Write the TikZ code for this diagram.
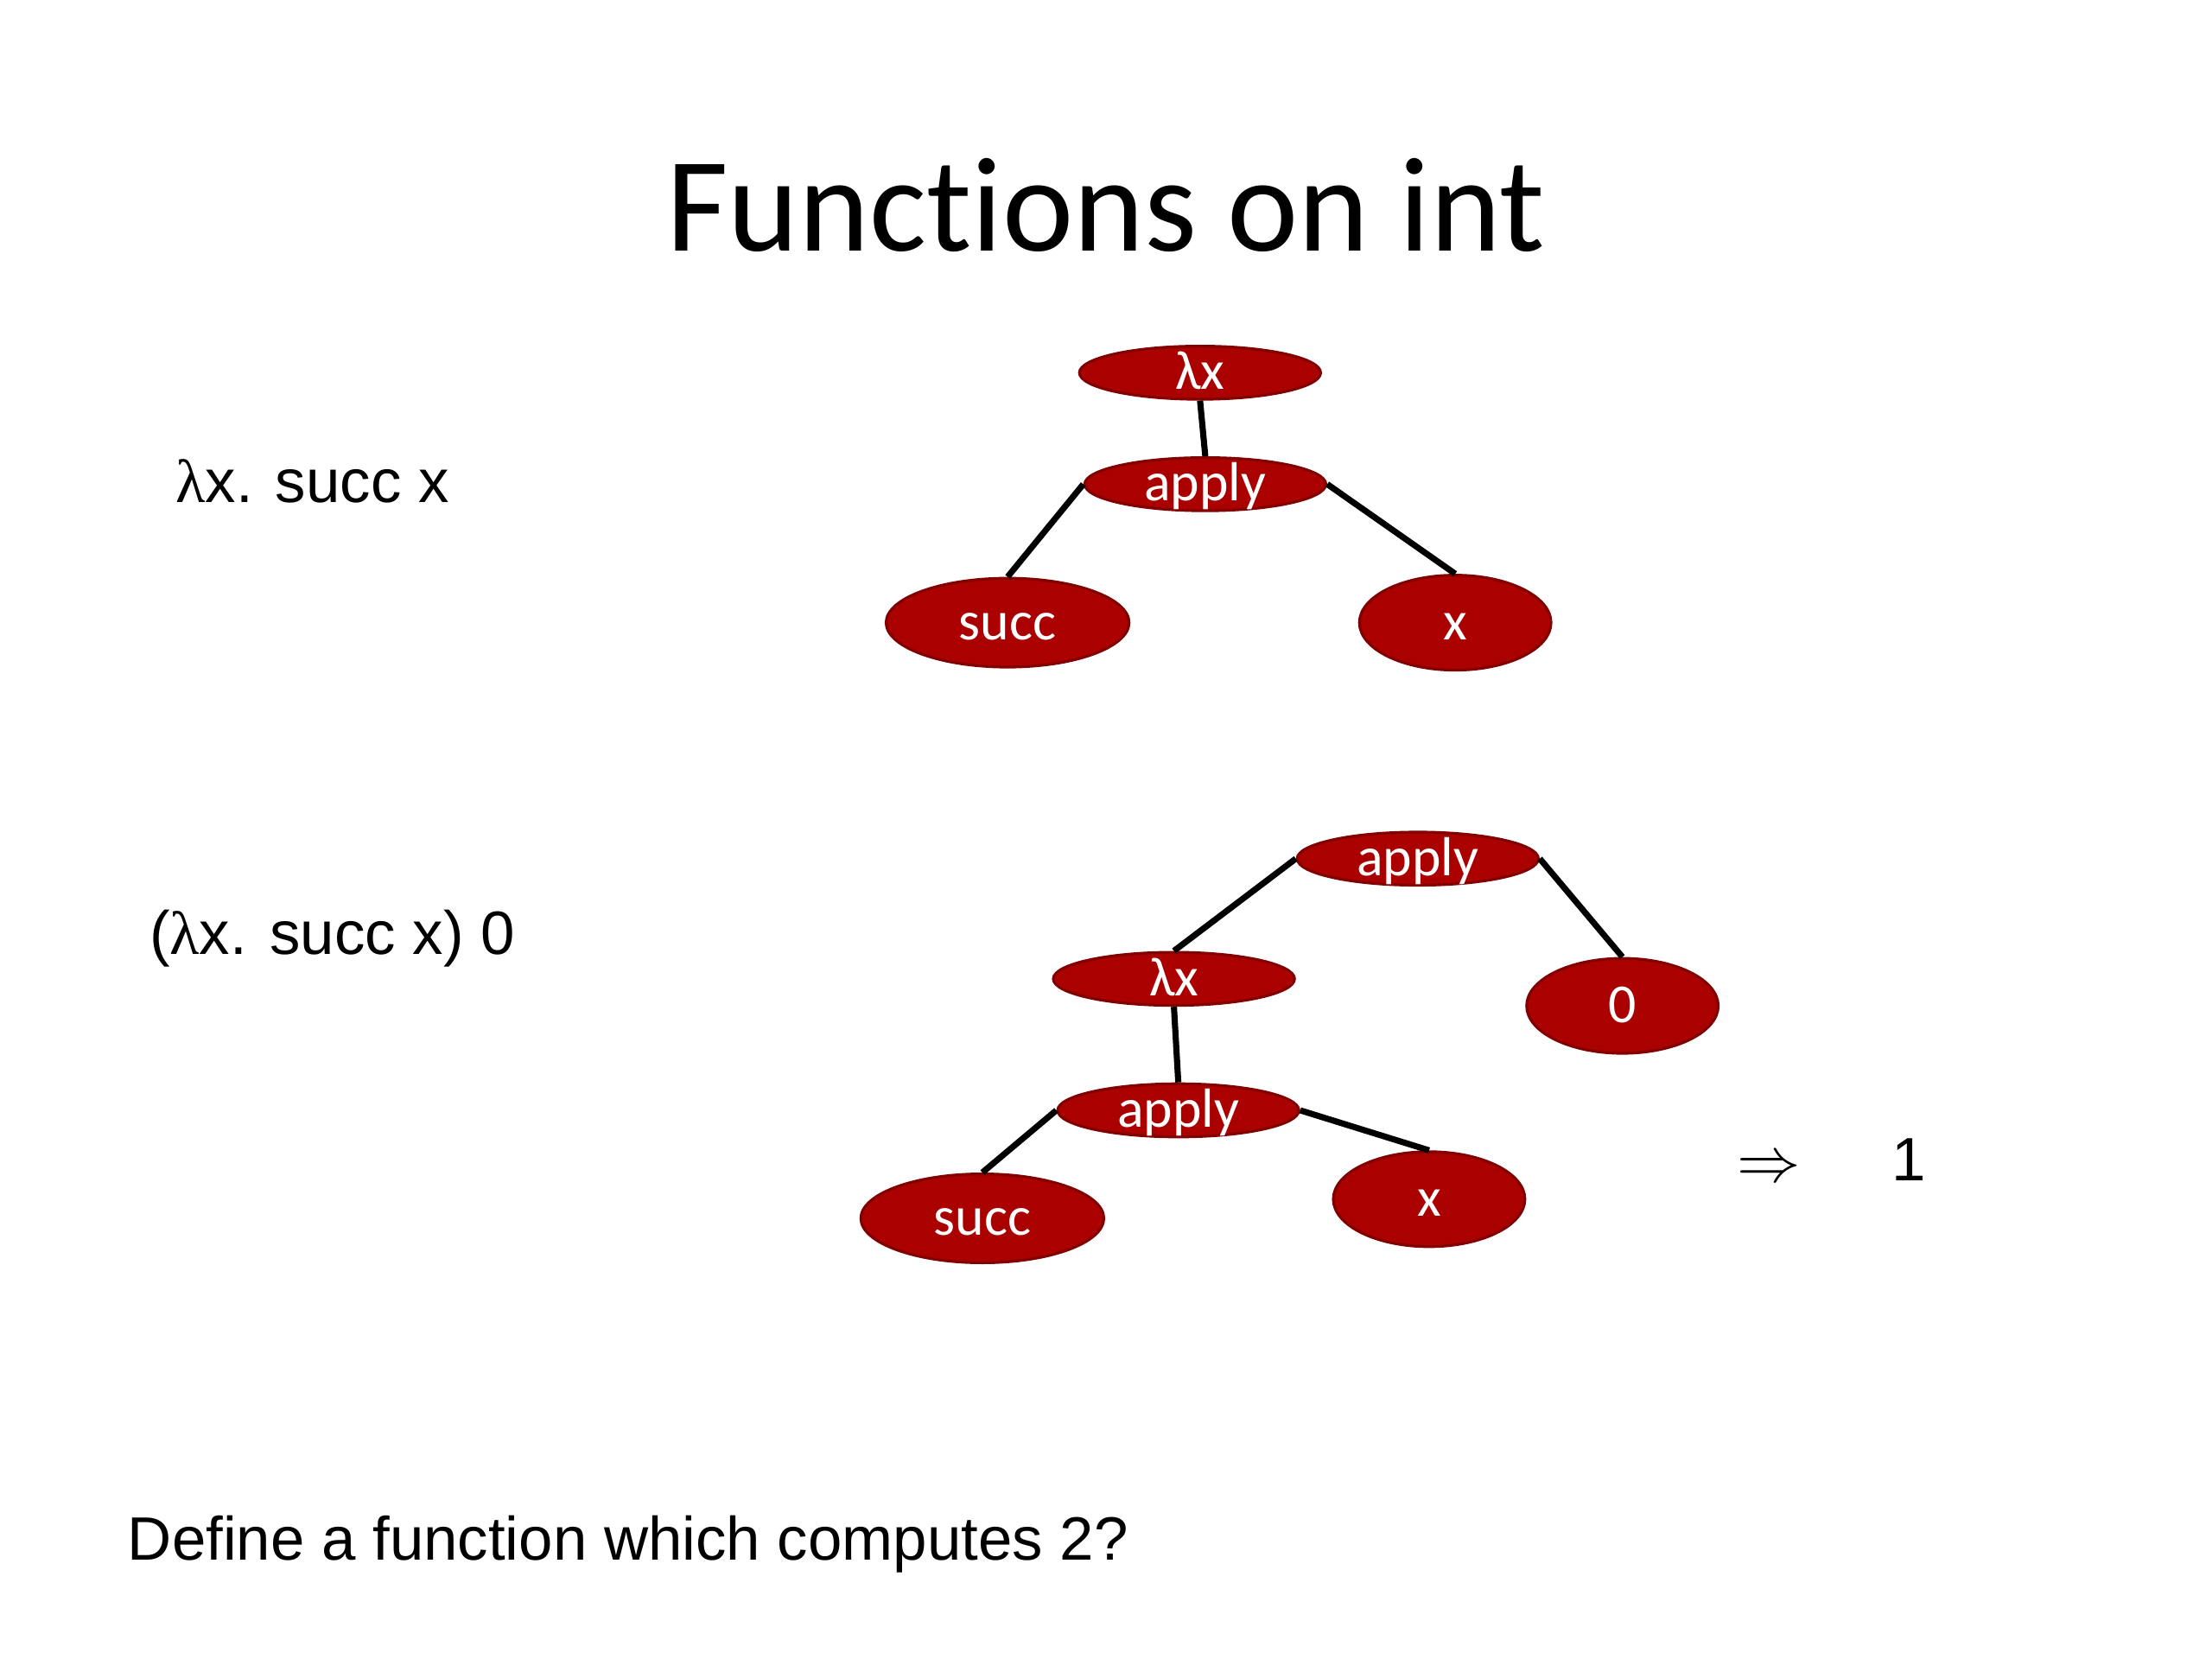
\documentclass[tikz,border=0pt]{standalone}
\usepackage{fontspec}
\setmainfont{Liberation Sans}
\newfontfamily\slidefont[Ligatures=NoCommon]{Carlito}
\newfontfamily\lamfont{Liberation Serif}
\usetikzlibrary{shapes,positioning}
\definecolor{treered}{RGB}{170,0,0}
\definecolor{treerim}{RGB}{130,0,0}

\begin{document}
\begin{tikzpicture}[
    term/.style={draw=treerim, line width=0.9pt, fill=treered, ellipse, inner sep=0pt,
      text=white, font=\slidefont\fontsize{18}{18}\selectfont, text height=11pt, text depth=0pt},
    flat/.style={term, minimum width=2.77cm, minimum height=0.61cm},
    leaf/.style={term, minimum width=2.79cm, minimum height=1.02cm},
    roundleaf/.style={term, minimum width=2.2cm, minimum height=1.09cm},
    link/.style={line width=2pt},
    body/.style={anchor=base west, inner sep=0pt, font=\fontsize{20}{24}\selectfont}]
  \useasboundingbox (0,0) rectangle (25.4,19.05);

  % Title
  \node[anchor=base, font=\slidefont\fontsize{44}{48}\selectfont] (title) at (12.70,16.17) {Functions on int};

  % First term
  \node[body] (term1) at (2.01,13.28) {{\lamfont λ}x. succ x};
  \node[flat] (lam1) at (13.78,14.77) {λx};
  \node[flat] (app1) at (13.84,13.49) {apply};
  \node[leaf] (succ1) at (11.57,11.90) {succ};
  \node[roundleaf] (x1) at (16.71,11.90) {x};
  \draw[link] (lam1.south) -- (app1.north);
  \draw[link] (app1.west) -- (succ1.north);
  \draw[link] (app1.east) -- (x1.north);

  % Second term
  \node[body] (term2) at (1.71,8.09) {({\lamfont λ}x. succ x) 0};
  \node[flat] (app2) at (16.28,9.19) {apply};
  \node[flat] (lam2) at (13.48,7.81) {λx};
  \node[roundleaf] (zero) at (18.63,7.50) {0};
  \node[flat] (app3) at (13.53,6.30) {apply};
  \node[leaf] (succ2) at (11.28,5.06) {succ};
  \node[roundleaf] (x2) at (16.41,5.28) {x};
  \draw[link] (app2.west) -- (lam2.north);
  \draw[link] (app2.east) -- (zero.north);
  \draw[link] (lam2.south) -- (app3.north);
  \draw[link] (app3.west) -- (succ2.north);
  \draw[link] (app3.east) -- (x2.north);

  % Result
  \node[body] (arrow) at (19.94,5.48) {$\Rightarrow$};
  \node[body] (result) at (21.72,5.49) {1};

  % Question
  \node[body] (question) at (1.46,1.14) {Define a function which computes 2?};
\end{tikzpicture}
\end{document}
